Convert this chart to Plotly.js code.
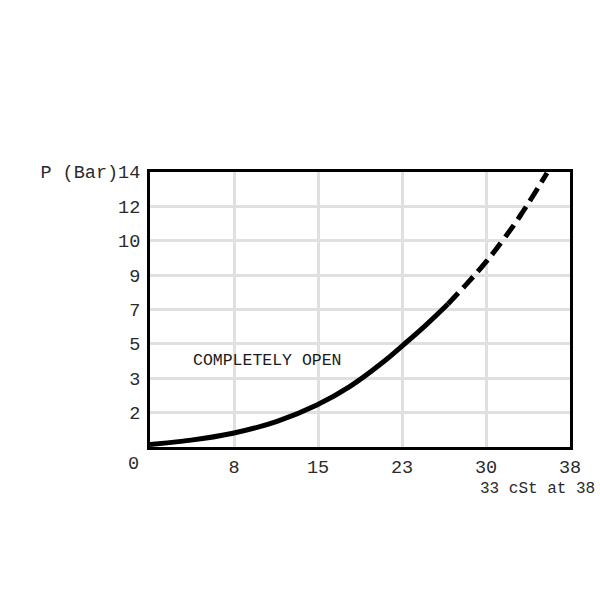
<!DOCTYPE html>
<html>
<head>
<meta charset="utf-8">
<script src="https://cdn.plot.ly/plotly-3.0.1.min.js"></script>
<style>
  body { margin: 0; background: #fff; }
  #plot { width: 600px; height: 600px; }
</style>
</head>
<body>
<div id="plot"></div>
<script>
// flow (cSt scale) vs pressure drop
var xSolid = [0, 3.0, 7.5, 11.5, 15.1, 18.1, 21.1, 22.8, 25.06, 26.96]
var ySolid = [0.13, 0.3, 0.7, 1.31, 2.14, 3.09, 4.33, 5.14, 6.26, 7.28]
var xDash = [26.96, 28.68, 30.4, 31.94, 33.48, 35.92]
var yDash = [7.28, 8.32, 9.42, 10.54, 11.76, 13.95]

var xTickVals = [7.6, 15.2, 22.8, 30.4, 38]
var xTickText = ['8', '15', '23', '30', '38']
var yTickVals = [1.75, 3.5, 5.25, 7, 8.75, 10.5, 12.25, 14]
var yTickText = ['2', '3', '5', '7', '9', '10', '12', 'P (Bar)14']

var mono = 'Liberation Mono, Courier New, monospace'

function draw() {
    try {
        var solid = {
            x: xSolid, y: ySolid, type: 'scatter', mode: 'lines',
            line: {color: '#000', width: 5, shape: 'spline', smoothing: 1.3},
            hoverinfo: 'skip'
        }
        var dashed = {
            x: xDash, y: yDash, type: 'scatter', mode: 'lines',
            line: {color: '#000', width: 5, shape: 'spline', smoothing: 1.3, dash: '15px,7px'},
            hoverinfo: 'skip'
        }
        var layout = {
            width: 600, height: 600,
            margin: {l: 150, r: 30, t: 172, b: 153, pad: 0},
            paper_bgcolor: '#fff', plot_bgcolor: '#fff',
            showlegend: false,
            font: {family: mono, color: '#2a2a2a', size: 18.5},
            xaxis: {
                range: [0, 38], tickmode: 'array',
                tickvals: xTickVals, ticktext: xTickText,
                showgrid: true, gridcolor: '#e0e0e0', gridwidth: 3,
                zeroline: false, showline: true, linecolor: '#000',
                linewidth: 3, mirror: true, ticks: '', ticklabelstandoff: 1
            },
            yaxis: {
                range: [0, 14], tickmode: 'array',
                tickvals: yTickVals, ticktext: yTickText,
                showgrid: true, gridcolor: '#e0e0e0', gridwidth: 3,
                zeroline: false, showline: true, linecolor: '#000',
                linewidth: 3, mirror: true, ticks: '', ticklabelstandoff: 3
            },
            annotations: [
                {text: 'COMPLETELY OPEN', x: 10.6, y: 4.4, xref: 'x', yref: 'y',
                 showarrow: false, font: {family: mono, size: 16.5, color: '#1a1a1a'}},
                {text: '0', x: 0, y: 0, xref: 'x', yref: 'y', xshift: -17, yshift: -17,
                 showarrow: false, font: {family: mono, size: 18.5, color: '#2a2a2a'}},
                {text: '33 cSt at 38', x: 38, y: 0, xref: 'x', yref: 'y',
                 xanchor: 'right', yanchor: 'middle', xshift: 27, yshift: -42,
                 showarrow: false, font: {family: mono, size: 16, color: '#2a2a2a'}}
            ]
        }
        Plotly.newPlot('plot', [solid, dashed], layout, {staticPlot: true})
    }
    catch (err) {
        console.error(err)
    }
}

draw()
</script>
</body>
</html>
